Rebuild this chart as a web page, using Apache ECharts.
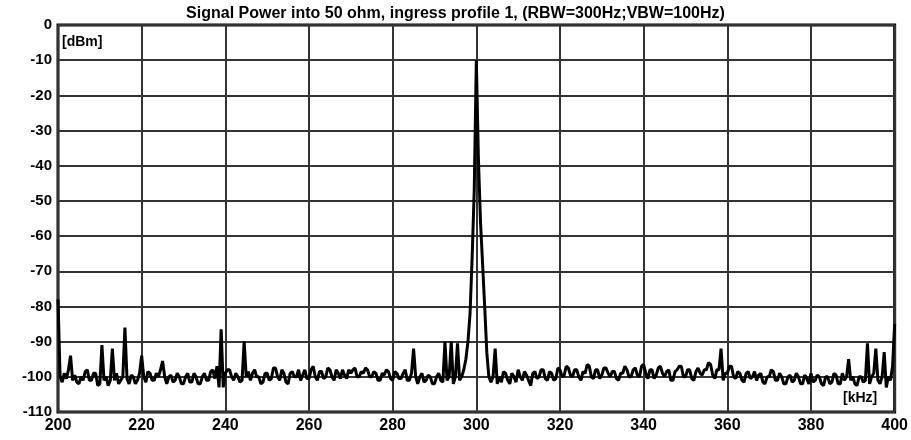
<!DOCTYPE html>
<html>
<head>
<meta charset="utf-8">
<script src="https://cdn.jsdelivr.net/npm/echarts@6/dist/echarts.min.js"></script>
<style>
html,body{margin:0;padding:0;background:#fff;}
#chart{width:911px;height:440px;}
</style>
</head>
<body>
<div id="chart"></div>
<script>
const titleText = "Signal Power into 50 ohm, ingress profile 1, (RBW=300Hz;VBW=100Hz)";
const yUnit = "[dBm]";
const xUnit = "[kHz]";
const xTicks = [200, 220, 240, 260, 280, 300, 320, 340, 360, 380, 400];
const yTicks = [0, -10, -20, -30, -40, -50, -60, -70, -80, -90, -100, -110];

const freq = [
200,200.5,201,201.5,202,202.5,203,203.5,204,204.5,205,205.5,206,206.5,207,207.5,208,208.5,209,209.5,
210,210.5,211,211.5,212,212.5,213,213.5,214,214.5,215,215.5,216,216.5,217,217.5,218,218.5,219,219.5,
220,220.5,221,221.5,222,222.5,223,223.5,224,224.5,225,225.5,226,226.5,227,227.5,228,228.5,229,229.5,
230,230.5,231,231.5,232,232.5,233,233.5,234,234.5,235,235.5,236,236.5,237,237.5,238,238.5,239,239.5,
240,240.5,241,241.5,242,242.5,243,243.5,244,244.5,245,245.5,246,246.5,247,247.5,248,248.5,249,249.5,
250,250.5,251,251.5,252,252.5,253,253.5,254,254.5,255,255.5,256,256.5,257,257.5,258,258.5,259,259.5,
260,260.5,261,261.5,262,262.5,263,263.5,264,264.5,265,265.5,266,266.5,267,267.5,268,268.5,269,269.5,
270,270.5,271,271.5,272,272.5,273,273.5,274,274.5,275,275.5,276,276.5,277,277.5,278,278.5,279,279.5,
280,280.5,281,281.5,282,282.5,283,283.5,284,284.5,285,285.5,286,286.5,287,287.5,288,288.5,289,289.5,
290,290.5,291,291.5,292,292.5,293,293.5,294,294.5,295,295.5,296,296.5,297,297.5,298,298.5,299,299.5,
300,300.5,301,301.5,302,302.5,303,303.5,304,304.5,305,305.5,306,306.5,307,307.5,308,308.5,309,309.5,
310,310.5,311,311.5,312,312.5,313,313.5,314,314.5,315,315.5,316,316.5,317,317.5,318,318.5,319,319.5,
320,320.5,321,321.5,322,322.5,323,323.5,324,324.5,325,325.5,326,326.5,327,327.5,328,328.5,329,329.5,
330,330.5,331,331.5,332,332.5,333,333.5,334,334.5,335,335.5,336,336.5,337,337.5,338,338.5,339,339.5,
340,340.5,341,341.5,342,342.5,343,343.5,344,344.5,345,345.5,346,346.5,347,347.5,348,348.5,349,349.5,
350,350.5,351,351.5,352,352.5,353,353.5,354,354.5,355,355.5,356,356.5,357,357.5,358,358.5,359,359.5,
360,360.5,361,361.5,362,362.5,363,363.5,364,364.5,365,365.5,366,366.5,367,367.5,368,368.5,369,369.5,
370,370.5,371,371.5,372,372.5,373,373.5,374,374.5,375,375.5,376,376.5,377,377.5,378,378.5,379,379.5,
380,380.5,381,381.5,382,382.5,383,383.5,384,384.5,385,385.5,386,386.5,387,387.5,388,388.5,389,389.5,
390,390.5,391,391.5,392,392.5,393,393.5,394,394.5,395,395.5,396,396.5,397,397.5,398,398.5,399,399.5,
400
];
const dbm = [
-78,-100,-101.5,-99,-100.5,-98,-94,-101,-99.5,-101.5,-102,-100,-101,-98.5,-98,-101,-101,-99,-99,-102.5,
-102,-91,-101,-100,-102.5,-101,-92,-101,-99,-102,-101,-100,-86,-100.5,-102,-99.5,-100,-102,-101,-99,
-94,-100,-101.5,-98.5,-99,-101,-101,-99,-100,-98,-95.5,-100,-102,-100,-99.5,-101.5,-101,-99,-100,-102,
-102,-100,-99,-101.5,-101.5,-99,-100,-102,-102,-100,-99,-101,-101,-98.5,-98,-100.5,-97,-103,-86.5,-103,
-99,-98,-98,-100,-101,-99,-100,-101.5,-101,-90,-100,-98.5,-101,-99,-98,-100,-100,-102,-101.5,-99,
-99,-101,-100.5,-97.5,-97.5,-100,-101,-98,-99,-101.5,-102,-99,-98.5,-100,-100,-98,-101,-99.5,-98,-100.5,
-100.5,-98,-97,-100,-101,-98.5,-98.5,-100.5,-100,-97.5,-98,-100,-101,-98,-99,-100.5,-98,-99.5,-100.5,-98,
-99,-98,-97.5,-100,-100,-98.5,-99,-97.5,-98,-100,-100,-98.5,-99,-101,-101,-99,-99.5,-98,-98.5,-100.5,
-101,-98.5,-99,-100.5,-100.5,-99,-98,-101,-101,-99,-92,-100,-102,-100,-99,-101.5,-101,-99.5,-100,-102,
-102,-100,-99,-101,-101.5,-90,-101,-100,-90,-102,-100,-90.5,-101,-100,-98,-95,-90,-82,-66,-47,
-10,-38,-56,-68,-80,-93,-100,-101.5,-100,-92,-102,-100,-101.5,-98.5,-99,-101,-102,-99,-100,-101.5,
-98,-100,-101,-98.5,-99.5,-101,-102.5,-99,-98.5,-100.5,-100,-98,-98,-100.5,-101,-98.5,-99,-101,-100.5,-97.5,
-98,-100,-99.5,-97,-97.5,-99.5,-100,-98,-98,-100,-101,-98.5,-99,-96.5,-97,-100,-100.5,-98,-98,-100.5,
-99.5,-97.5,-97.5,-99,-100,-98.5,-98.5,-100.5,-101,-99,-99,-97,-98,-100,-100,-98,-97.5,-99.5,-100,-97,
-96.5,-99,-100.5,-98,-98,-100.5,-99.5,-97.5,-97,-99,-100,-98.5,-98,-101,-101,-98.5,-98,-97,-97,-100,
-100,-98,-98,-100.5,-101,-98.5,-97.5,-99,-99.5,-98,-98,-96,-96.5,-99.5,-100.5,-98,-98,-92,-101,-99,
-99,-97,-97,-100,-100.5,-98.5,-99,-101,-101.5,-99,-98.5,-100.5,-100,-98.5,-101,-99.5,-99,-101.5,-102,-100,
-100,-98,-98.5,-101,-101,-99,-100,-102,-102,-100,-99.5,-101.5,-101,-99,-100,-102,-102,-99.5,-100.5,-102,
-99,-101.5,-101,-99.5,-100,-102,-102.5,-100,-100,-102,-101.5,-99,-99.5,-102,-102,-99,-101,-100,-95,-101,
-100,-102,-102.5,-100,-100,-101.5,-101,-90.5,-102,-100,-99,-92,-101,-102,-100,-93,-103,-100,-101,-97,
-85
];

const seriesData = freq.map((f, i) => [f, dbm[i]]);

const chart = echarts.init(document.getElementById('chart'), null, {renderer: 'canvas'});
const fontFam = '"Liberation Sans", Arial, sans-serif';
chart.setOption({
  animation: false,
  backgroundColor: '#fff',
  title: {
    text: titleText, left: 'center', top: 1,
    textStyle: {color: '#000', fontFamily: fontFam, fontWeight: 'bold', fontSize: 16}
  },
  grid: {left: 58, right: 6, top: 25, bottom: 28, show: true, borderColor: '#000', borderWidth: 3, backgroundColor: 'transparent'},
  xAxis: {
    type: 'value', min: xTicks[0], max: xTicks[xTicks.length - 1], interval: xTicks[1] - xTicks[0],
    axisLine: {show: false}, axisTick: {show: false},
    axisLabel: {margin: 6, color: '#000', fontFamily: fontFam, fontWeight: 'bold', fontSize: 16},
    splitLine: {show: true, lineStyle: {color: '#333', width: 2}}
  },
  yAxis: {
    type: 'value', min: yTicks[yTicks.length - 1], max: yTicks[0], interval: yTicks[0] - yTicks[1],
    axisLine: {show: false}, axisTick: {show: false},
    axisLabel: {margin: 6, color: '#000', fontFamily: fontFam, fontWeight: 'bold', fontSize: 15},
    splitLine: {show: true, lineStyle: {color: '#333', width: 2}}
  },
  graphic: [
    {type: 'text', left: 62, top: 35, style: {text: yUnit, fill: '#000', font: 'bold 14px "Liberation Sans", Arial, sans-serif'}},
    {type: 'text', left: 843, top: 391, style: {text: xUnit, fill: '#000', font: 'bold 14px "Liberation Sans", Arial, sans-serif'}}
  ],
  series: [{
    type: 'line', data: seriesData, showSymbol: false, symbol: 'none',
    lineStyle: {color: '#000', width: 3}, z: 3
  }]
});
</script>
</body>
</html>
